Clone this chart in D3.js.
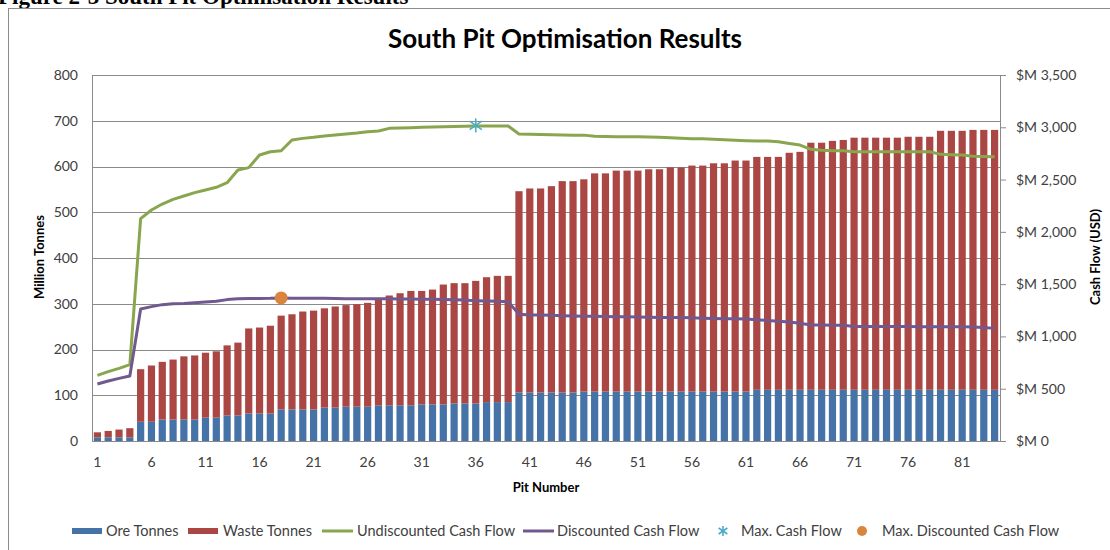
<!DOCTYPE html>
<html>
<head>
<meta charset="utf-8">
<script src="https://cdn.jsdelivr.net/npm/d3@7"></script>
<style>
body { margin: 0; background: #fff; }
#chart { width: 1110px; height: 550px; overflow: hidden; }
</style>
</head>
<body>
<div id="chart"></div>
<script>
// pit numbers 1..84
const pits = [1,2,3,4,5,6,7,8,9,10,11,12,13,14,15,16,17,18,19,20,21,22,23,24,25,26,27,28,29,30,
  31,32,33,34,35,36,37,38,39,40,41,42,43,44,45,46,47,48,49,50,51,52,53,54,55,56,57,58,59,60,
  61,62,63,64,65,66,67,68,69,70,71,72,73,74,75,76,77,78,79,80,81,82,83,84]

// million tonnes
const oreTonnes = [8,8,8,8,42,42,47,47,47,47,51,51,56,56,60,60,60,69,69,69,69,73,73,75,75,75,78,78,78,78,
  80,80,80,82,82,82,85,85,85,106,106,106,106,106,106,108,108,108,108,108,108,108,108,108,108,108,108,108,108,108,
  108,112,112,112,112,112,112,112,112,112,112,112,112,112,112,112,112,112,112,112,112,112,112,112]
const wasteTonnes = [11,14,17,20,115,123,126,131,138,140,142,145,153,159,186,188,192,205,208,214,216,217,221,222,224,227,232,240,245,250,
  248,251,262,263,263,268,273,276,276,440,446,446,451,462,462,464,477,477,483,483,483,486,486,490,490,494,494,499,499,505,
  505,509,509,509,518,520,540,540,544,546,551,551,551,551,551,553,553,553,566,566,566,568,568,568]

// $M
const undiscounted = [628,663,695,730,2126,2209,2266,2311,2343,2375,2400,2426,2470,2591,2614,2735,2766,2776,2879,2894,2904,2917,2926,2936,2945,2958,2964,2990,2992,2995,
  3000,3003,3005,3008,3010,3012,3012,3012,3012,2936,2934,2932,2928,2926,2925,2925,2915,2912,2910,2910,2910,2908,2905,2900,2895,2890,2890,2885,2880,2875,
  2872,2870,2868,2862,2845,2830,2789,2780,2776,2776,2766,2766,2766,2766,2766,2766,2766,2766,2741,2738,2735,2722,2720,2719]
const discounted = [545,574,599,622,1262,1285,1304,1313,1316,1323,1329,1336,1352,1361,1362,1363,1364,1368,1365,1365,1365,1364,1362,1361,1361,1361,1360,1360,1358,1357,
  1355,1355,1352,1350,1348,1340,1338,1336,1332,1211,1206,1204,1202,1198,1196,1194,1192,1190,1189,1188,1186,1183,1182,1181,1180,1178,1175,1172,1170,1168,
  1166,1160,1152,1145,1138,1125,1110,1109,1108,1106,1095,1094,1094,1094,1094,1094,1093,1093,1093,1093,1092,1090,1085,1077]

const maxCash = {pit: 36, value: 3018}
const maxDiscCash = {pit: 18, value: 1368}

const leftTicks = [0,100,200,300,400,500,600,700,800]
const rightTicks = [0,500,1000,1500,2000,2500,3000,3500]
const xTicks = [1,6,11,16,21,26,31,36,41,46,51,56,61,66,71,76,81]

const colors = {ore: "#4572a7", waste: "#aa4643", undisc: "#89a54e", disc: "#71588f", star: "#4bacc6", dot: "#db843d"}
const font = "Lato, 'Open Sans', sans-serif"
const textColor = "#404040"

width = 1110
height = 550
margin = ({top: 75, right: 110, bottom: 109, left: 92})

const svg = d3.select("#chart").append("svg")
  .attr("width", width)
  .attr("height", height)
  .style("font-family", font)

// report heading, cut off at the top as in the source document
svg.append("text")
  .attr("x", -2)
  .attr("y", 4)
  .style("font", "bold 23px 'Liberation Serif', 'Times New Roman', serif")
  .attr("fill", "#000")
  .text("Figure 2-3  South Pit Optimisation Results")

// chart frame
svg.append("rect")
  .attr("x", 8.5).attr("y", 8.5)
  .attr("width", 1200).attr("height", 600)
  .attr("fill", "none")
  .attr("stroke", "#8c8c8c")

x = d3.scaleBand()
  .domain(pits)
  .range([margin.left, width - margin.right])
  .paddingInner(1/3)
  .paddingOuter(1/6)

y = d3.scaleLinear()
  .domain([0, 800])
  .range([height - margin.bottom, margin.top])

yCash = d3.scaleLinear()
  .domain([0, 3500])
  .range([height - margin.bottom, margin.top])

// gridlines
svg.append("g")
  .attr("transform", `translate(${margin.left},0)`)
  .call(d3.axisLeft(y).tickValues(leftTicks).tickSize(-(width - margin.left - margin.right)).tickFormat(""))
  .call(g => g.select(".domain").remove())
  .call(g => g.selectAll("line").attr("stroke", "#8a8a8a").attr("shape-rendering", "crispEdges"))

// stacked bars
const stackData = pits.map((p, i) => ({pit: p, ore: oreTonnes[i], waste: wasteTonnes[i]}))
const series = d3.stack().keys(["ore", "waste"])(stackData)

svg.append("g")
  .selectAll("g")
  .data(series)
  .enter().append("g")
  .attr("fill", d => colors[d.key])
  .selectAll("rect")
  .data(d => d)
  .enter().append("rect")
  .attr("x", d => x(d.data.pit))
  .attr("width", x.bandwidth())
  .attr("y", d => y(d[1]))
  .attr("height", d => y(d[0]) - y(d[1]))

// left axis
svg.append("g")
  .attr("transform", `translate(${margin.left},0)`)
  .call(d3.axisLeft(y).tickValues(leftTicks).tickSize(0).tickPadding(14))
  .call(g => g.select(".domain").attr("stroke", "#8a8a8a"))
  .call(g => g.selectAll("text").attr("fill", textColor).style("font", `14px ${font}`))

// right axis
svg.append("g")
  .attr("transform", `translate(${width - margin.right},0)`)
  .call(d3.axisRight(yCash).tickValues(rightTicks).tickSize(6).tickPadding(10)
    .tickFormat(d => "$M " + d3.format(",")(d)))
  .call(g => g.select(".domain").attr("stroke", "#8a8a8a"))
  .call(g => g.selectAll("line").attr("stroke", "#8a8a8a"))
  .call(g => g.selectAll("text").attr("fill", textColor).style("font", `14px ${font}`))

// bottom axis
svg.append("g")
  .attr("transform", `translate(0,${height - margin.bottom})`)
  .call(d3.axisBottom(x).tickValues(xTicks).tickSize(0).tickPadding(16))
  .call(g => g.select(".domain").remove())
  .call(g => g.selectAll("text").attr("fill", textColor).style("font", `14px ${font}`))

// cash flow lines
const cx = p => x(p) + x.bandwidth() / 2
const line = vals => d3.line()
  .x((d, i) => cx(pits[i]))
  .y(d => yCash(d))(vals)

svg.append("path")
  .attr("d", line(undiscounted))
  .attr("fill", "none")
  .attr("stroke", colors.undisc)
  .attr("stroke-width", 3)
  .attr("stroke-linejoin", "round")

svg.append("path")
  .attr("d", line(discounted))
  .attr("fill", "none")
  .attr("stroke", colors.disc)
  .attr("stroke-width", 3)
  .attr("stroke-linejoin", "round")

function star(g, px, py, r) {
  const s = g.append("g").attr("transform", `translate(${px},${py})`)
    .attr("stroke", colors.star).attr("stroke-width", 1.6)
  s.append("line").attr("x1", 0).attr("y1", -r).attr("x2", 0).attr("y2", r)
  s.append("line").attr("x1", -r * 0.87).attr("y1", -r * 0.6).attr("x2", r * 0.87).attr("y2", r * 0.6)
  s.append("line").attr("x1", -r * 0.87).attr("y1", r * 0.6).attr("x2", r * 0.87).attr("y2", -r * 0.6)
}

star(svg, cx(maxCash.pit), yCash(maxCash.value), 7)

svg.append("circle")
  .attr("cx", cx(maxDiscCash.pit))
  .attr("cy", yCash(maxDiscCash.value))
  .attr("r", 6.5)
  .attr("fill", colors.dot)

// titles
svg.append("text")
  .attr("x", 565).attr("y", 48)
  .attr("text-anchor", "middle")
  .style("font", `bold 26px ${font}`)
  .attr("fill", "#000")
  .text("South Pit Optimisation Results")

svg.append("text")
  .attr("transform", "translate(44,257) rotate(-90)")
  .attr("text-anchor", "middle")
  .style("font", `bold 13px ${font}`)
  .text("Million Tonnes")

svg.append("text")
  .attr("transform", "translate(1100,257) rotate(-90)")
  .attr("text-anchor", "middle")
  .style("font", `bold 13px ${font}`)
  .text("Cash Flow (USD)")

svg.append("text")
  .attr("x", 546).attr("y", 492)
  .attr("text-anchor", "middle")
  .style("font", `bold 13px ${font}`)
  .text("Pit Number")

// legend
const legendY = 531
const legendItems = [
  {label: "Ore Tonnes", type: "rect", color: colors.ore, x: 72, tx: 106},
  {label: "Waste Tonnes", type: "rect", color: colors.waste, x: 188, tx: 223},
  {label: "Undiscounted Cash Flow", type: "line", color: colors.undisc, x: 322, tx: 357},
  {label: "Discounted Cash Flow", type: "line", color: colors.disc, x: 523, tx: 557},
  {label: "Max. Cash Flow", type: "star", color: colors.star, x: 723, tx: 741},
  {label: "Max. Discounted Cash Flow", type: "dot", color: colors.dot, x: 862, tx: 882}
]

const legend = svg.append("g")
legendItems.forEach(d => {
  if (d.type === "rect") {
    legend.append("rect").attr("x", d.x).attr("y", legendY - 3).attr("width", 30).attr("height", 6).attr("fill", d.color)
  } else if (d.type === "line") {
    legend.append("line").attr("x1", d.x).attr("x2", d.x + 31).attr("y1", legendY).attr("y2", legendY)
      .attr("stroke", d.color).attr("stroke-width", 3)
  } else if (d.type === "star") {
    star(legend, d.x, legendY, 5)
  } else {
    legend.append("circle").attr("cx", d.x).attr("cy", legendY).attr("r", 5).attr("fill", d.color)
  }
  legend.append("text")
    .attr("x", d.tx).attr("y", legendY)
    .attr("dy", "0.35em")
    .attr("fill", textColor)
    .style("font", `14.5px ${font}`)
    .text(d.label)
})
</script>
</body>
</html>
